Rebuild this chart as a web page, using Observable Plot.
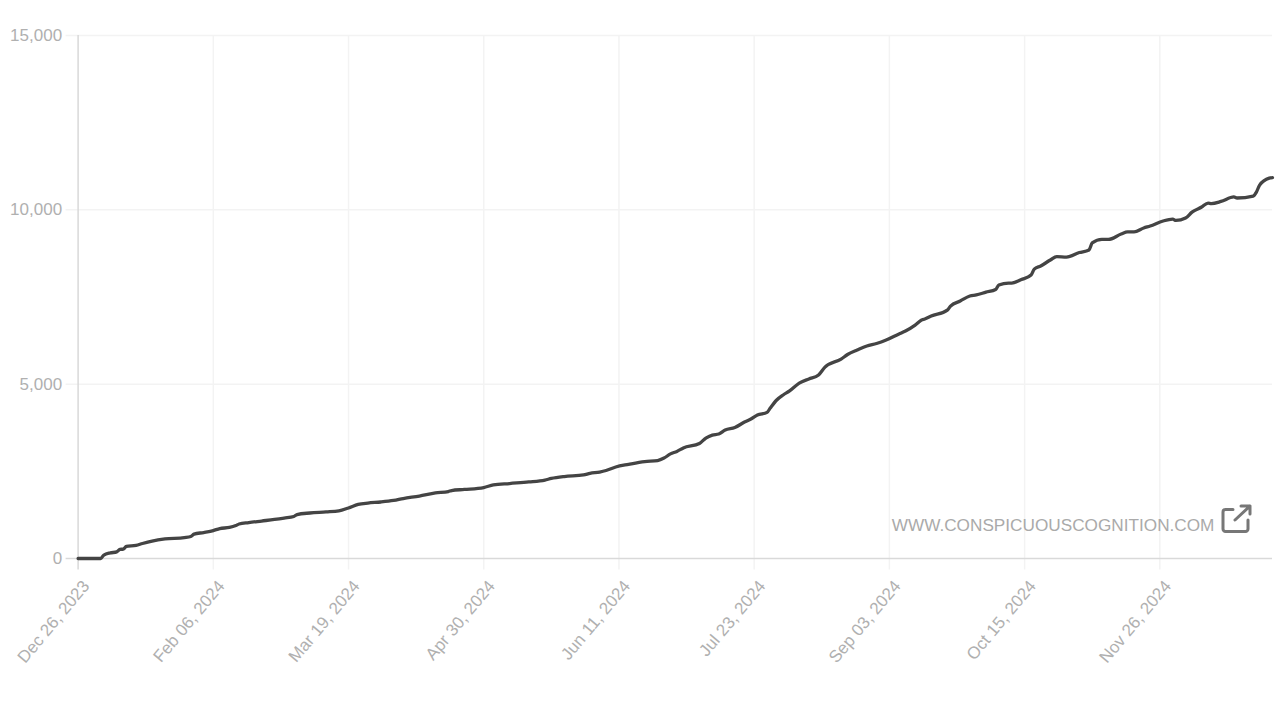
<!DOCTYPE html>
<html>
<head>
<meta charset="utf-8">
<script src="https://cdn.jsdelivr.net/npm/d3@7"></script>
<script src="https://cdn.jsdelivr.net/npm/@observablehq/plot@0.6"></script>
<style>
  html, body { margin: 0; padding: 0; background: #fff; overflow: hidden; }
  #chart { position: relative; width: 1278px; height: 702px; }
  #chart svg.plot { display: block; }
  #icon { position: absolute; left: 1220px; top: 503px; }
</style>
</head>
<body>
<div id="chart"></div>
<script>
const startDate = "2023-12-26";
const endDate = "2024-12-31";
const dayOffsets = [0,7,8,10,12,13,14,15,18,20,23,27,33,35,36,39,42,44,47,49,50,53,57,61,64,67,68,72,77,81,84,87,90,94,98,101,106,111,115,116,120,126,129,134,140,145,147,151,157,159,162,164,167,171,176,180,182,184,186,188,193,195,197,199,201,204,207,209,211,214,215,217,219,221,224,227,230,232,237,239,242,245,248,251,255,257,260,262,263,265,270,271,274,277,279,282,285,286,289,290,293,296,297,299,302,304,307,311,314,315,318,320,324,326,328,331,333,337,340,341,344,346,349,351,352,355,359,360,365,366,367,370,371];
const totals = [0,0,100,160,190,260,270,345,375,430,500,560,600,630,700,745,800,860,890,945,990,1030,1075,1120,1160,1205,1260,1305,1335,1365,1450,1550,1590,1620,1665,1720,1790,1880,1920,1950,1980,2035,2110,2150,2195,2250,2295,2350,2395,2440,2480,2525,2625,2700,2780,2810,2880,3000,3070,3170,3300,3455,3540,3570,3685,3755,3915,4000,4115,4190,4315,4545,4690,4805,5030,5150,5265,5490,5720,5850,5980,6095,6165,6265,6440,6525,6695,6840,6870,6955,7125,7240,7385,7530,7560,7640,7715,7845,7900,7900,8000,8130,8300,8390,8560,8660,8645,8775,8850,9050,9150,9150,9305,9365,9365,9480,9535,9680,9735,9695,9765,9935,10080,10195,10180,10240,10370,10340,10395,10510,10710,10910,10925];
const tickDates = ["2023-12-26","2024-02-06","2024-03-19","2024-04-30","2024-06-11","2024-07-23","2024-09-03","2024-10-15","2024-11-26"];
const yTicks = [0,5000,10000,15000];
const watermark = "WWW.CONSPICUOUSCOGNITION.COM";

const day0 = new Date(startDate + "T00:00:00Z");
const rows = dayOffsets.map((d, i) => ({date: d3.utcDay.offset(day0, d), total: totals[i]}));
const xTicks = tickDates.map(d => new Date(d + "T00:00:00Z"));

const plot = Plot.plot({
  width: 1278,
  height: 702,
  marginLeft: 77.6,
  marginRight: 6,
  marginTop: 35,
  marginBottom: 144,
  style: {fontFamily: "'Liberation Sans', Arial, sans-serif", background: "#fff", overflow: "visible"},
  x: {type: "utc", domain: [day0, new Date(endDate + "T00:00:00Z")]},
  y: {domain: [0, 15000]},
  marks: [
    Plot.ruleX(xTicks.slice(1), {x: d => d, stroke: "#f3f3f3", strokeWidth: 1.5, insetBottom: -11.5}),
    Plot.ruleY(yTicks.slice(1), {y: d => d, stroke: "#f3f3f3", strokeWidth: 1.5, insetLeft: -12}),
    Plot.ruleX([xTicks[0]], {x: d => d, stroke: "#d9d9d9", strokeWidth: 1.5, insetBottom: -11.5}),
    Plot.ruleY([0], {stroke: "#d9d9d9", strokeWidth: 1.5, insetLeft: -12}),
    Plot.axisY({ticks: yTicks, tickFormat: d3.format(","), tickSize: 0, tickPadding: 16, fontSize: 17, color: "#b0b0b0", label: null}),
    Plot.axisX({ticks: xTicks, tickFormat: d3.utcFormat("%b %d, %Y"), tickSize: 0, tickRotate: -50, textAnchor: "end", dx: 8, dy: 13, fontSize: 17, color: "#b0b0b0", label: null}),
    Plot.text([watermark], {
      x: () => new Date("2024-12-17T00:00:00Z"),
      y: () => 0,
      text: d => d,
      textAnchor: "end",
      dx: -13,
      dy: -33,
      fontSize: 17.2,
      fill: "#aaa"
    }),
    Plot.line(rows, {x: "date", y: "total", stroke: "#444", strokeWidth: 3.3, curve: "monotone-x"})
  ]
});
const chart = document.getElementById("chart");
chart.appendChild(plot);
chart.insertAdjacentHTML("beforeend",
  '<svg id="icon" width="32" height="32" viewBox="0 0 32 32" fill="none" stroke="#777" stroke-width="3" stroke-linecap="round" stroke-linejoin="round">' +
  '<path d="M13 6.500H5.500a2.500 2.500 0 0 0-2.500 2.500V26a2.500 2.500 0 0 0 2.500 2.500H25.500a2.500 2.500 0 0 0 2.500-2.500V17"/>' +
  '<path d="M15 17L30 3M21 3H30V11"/></svg>');
</script>
</body>
</html>
